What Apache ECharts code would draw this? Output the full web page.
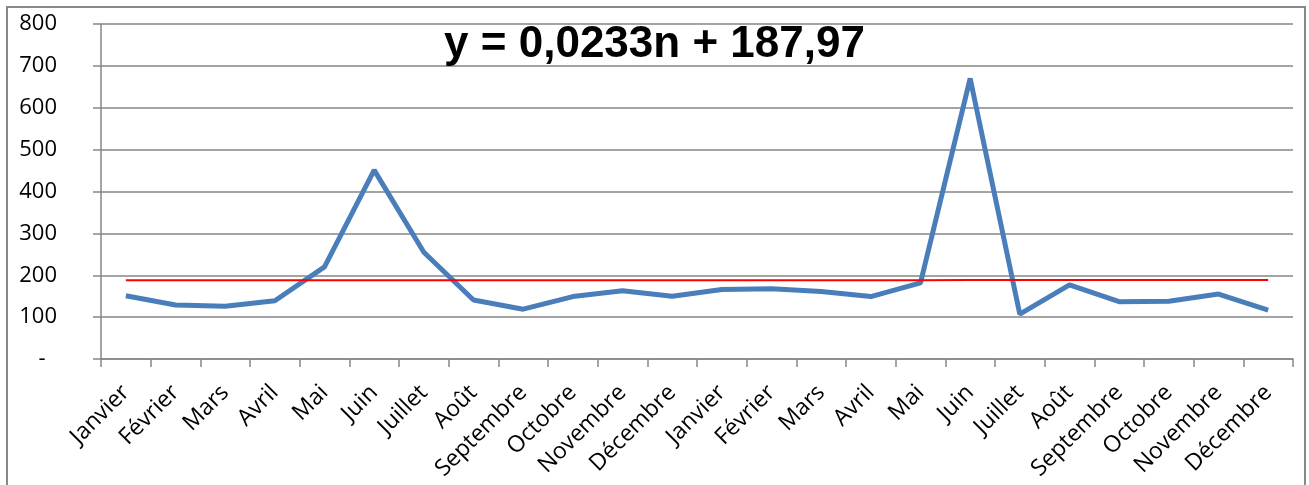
<!DOCTYPE html>
<html>
<head>
<meta charset="utf-8">
<script src="https://cdn.jsdelivr.net/npm/echarts@6/dist/echarts.min.js"></script>
<style>
  html, body { margin: 0; padding: 0; background: #fff; }
  #chart { width: 1309px; height: 485px; }
</style>
</head>
<body>
<div id="chart"></div>
<script>
var months = ['Janvier', 'Février', 'Mars', 'Avril', 'Mai', 'Juin', 'Juillet', 'Août',
  'Septembre', 'Octobre', 'Novembre', 'Décembre',
  'Janvier', 'Février', 'Mars', 'Avril', 'Mai', 'Juin', 'Juillet', 'Août',
  'Septembre', 'Octobre', 'Novembre', 'Décembre'];

var values = [151, 129, 126, 139, 220, 451, 255, 141, 119, 149, 163, 150,
  166, 168, 161, 149, 182, 670, 107, 177, 137, 138, 155, 117];

// droite de tendance (quasi plate)
var trend = [188.0, 188.0, 188.0, 188.1, 188.1, 188.1, 188.1, 188.1, 188.2, 188.2, 188.2, 188.2,
  188.3, 188.3, 188.3, 188.3, 188.3, 188.4, 188.4, 188.4, 188.4, 188.5, 188.5, 188.5];

var yTicks = { 0: '-  ', 100: '100', 200: '200', 300: '300', 400: '400', 500: '500', 600: '600', 700: '700', 800: '800' };

var titleText = 'y = 0,0233n + 187,97';

var chart = echarts.init(document.getElementById('chart'));

var option = {
  animation: false,
  title: {
    text: titleText,
    left: 'center',
    top: 18,
    textStyle: {
      fontFamily: 'Liberation Sans',
      fontWeight: 'bold',
      fontSize: 44,
      color: '#000'
    }
  },
  grid: {
    left: 101,
    right: 16,
    top: 24,
    bottom: 126
  },
  xAxis: {
    type: 'category',
    data: months,
    boundaryGap: true,
    axisLine: { lineStyle: { color: '#868686', width: 1.5 } },
    axisTick: { show: true, length: 8, lineStyle: { color: '#868686', width: 1.5 } },
    axisLabel: {
      interval: 0,
      rotate: 45,
      margin: 30,
      fontFamily: 'Open Sans',
      fontSize: 23,
      color: '#000'
    },
    splitLine: { show: false }
  },
  yAxis: {
    type: 'value',
    min: 0,
    max: 800,
    interval: 100,
    axisLine: { show: true, lineStyle: { color: '#868686', width: 1.5 } },
    axisTick: { show: true, length: 8, lineStyle: { color: '#868686', width: 1.5 } },
    axisLabel: {
      margin: 44,
      fontFamily: 'Open Sans',
      fontSize: 22,
      color: '#000',
      formatter: function (v) { return yTicks[v] !== undefined ? yTicks[v] : ''; }
    },
    splitLine: { show: true, lineStyle: { color: '#868686', width: 1.5 } }
  },
  series: [
    {
      name: 'valeurs',
      type: 'line',
      data: values,
      symbol: 'none',
      lineStyle: { color: '#4a7ebb', width: 5 },
      z: 3
    },
    {
      name: 'tendance',
      type: 'line',
      data: trend,
      symbol: 'none',
      lineStyle: { color: '#ff0000', width: 2 },
      z: 4
    }
  ],
  graphic: [
    {
      type: 'rect',
      shape: { x: 7, y: 7, width: 1298, height: 500 },
      style: { fill: 'none', stroke: '#888', lineWidth: 2 },
      silent: true
    }
  ]
};

chart.setOption(option);
</script>
</body>
</html>
